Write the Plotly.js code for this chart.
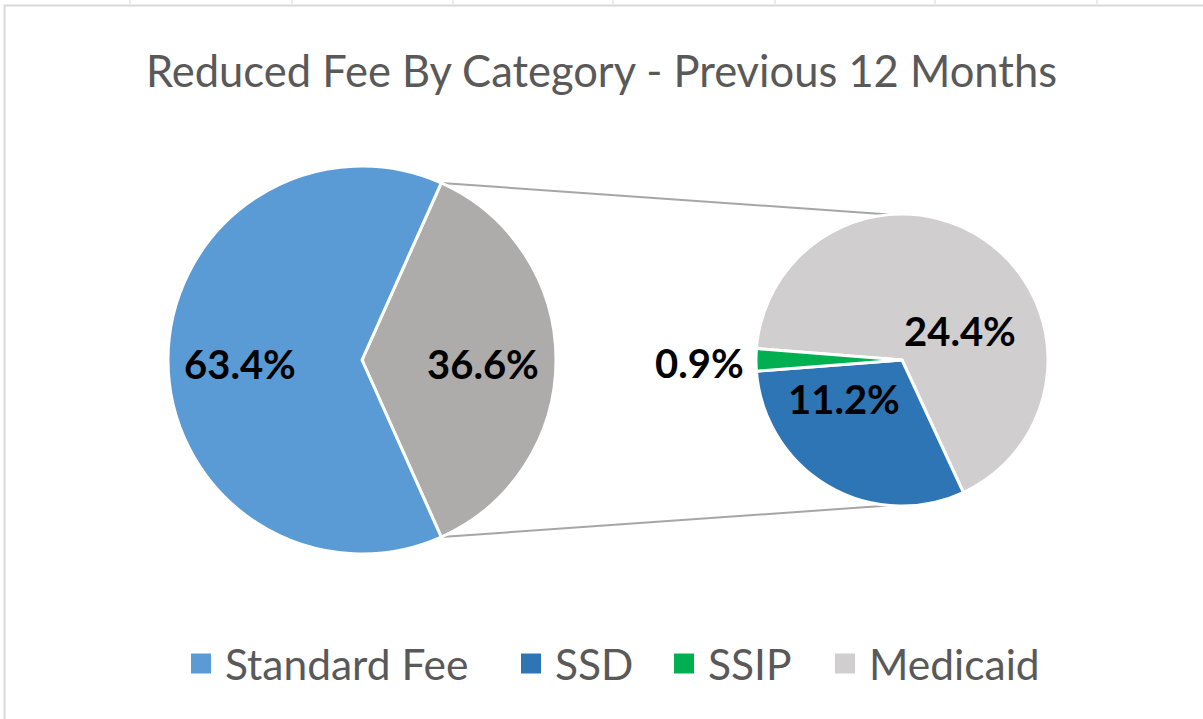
<!DOCTYPE html>
<html><head><meta charset="utf-8">
<script src="https://cdn.plot.ly/plotly-3.0.1.min.js"></script>
<style>html,body{margin:0;padding:0;background:#fff;overflow:hidden;} #chart{width:1203px;height:719px;}</style>
</head><body><div id="chart"></div>
<script>
// ---- data ----
const mainLabels = ['Other', 'Standard Fee'];
const mainValues = [36.6, 63.4];
const subLabels = ['Medicaid', 'SSD', 'SSIP'];
const subValues = [24.4, 11.2, 0.9];
const legendLabels = ['Standard Fee', 'SSD', 'SSIP', 'Medicaid'];
const titleText = 'Reduced Fee By Category - Previous 12 Months';

// ---- styles ----
const colorMap = {'Standard Fee':'#5B9BD5','Other':'#AEABAB','Medicaid':'#D0CECE','SSD':'#2E75B6','SSIP':'#00B050'};
const W = 1203, H = 719;
const FONT = 'Lato, "Open Sans", sans-serif';
const mainC = {x:362, y:360, r:194};
const subC = {x:902, y:360, r:146};
// label placement offsets (in radius units) relative to each pie centre
const mainLabelOff = [[0.626, 0.02], [-0.629, 0.02]];
const subLabelOff = [[0.40, -0.20], [-0.40, 0.265], [-1.385, 0.02]];
// legend layout (px)
const legendSwatchLeft = [191, 521, 674, 835];
const legendY = 663.5, swatch = 20, swatchGap = 12;

const dom = c => ({x:[(c.x-c.r)/W,(c.x+c.r)/W], y:[1-(c.y+c.r)/H, 1-(c.y-c.r)/H]});
const mainTotal = mainValues.reduce((a,b)=>a+b,0);
const otherDeg = mainValues[0]/mainTotal*360;
const mainRot = 90 - otherDeg/2;
const subRot = -85.5;
const fmt = v => v.toFixed(1) + '%';

const traces = [
  {type:'pie', labels:mainLabels, values:mainValues, sort:false, direction:'clockwise',
   rotation:mainRot, domain:dom(mainC), textinfo:'none',
   marker:{colors:mainLabels.map(l=>colorMap[l]), line:{color:'#fff', width:3}},
   showlegend:false},
  {type:'pie', labels:subLabels, values:subValues, sort:false, direction:'clockwise',
   rotation:subRot, domain:dom(subC), textinfo:'none',
   marker:{colors:subLabels.map(l=>colorMap[l]), line:{color:'#fff', width:3}},
   showlegend:false}
];

// connector lines derived from pie geometry
const rad = d => d*Math.PI/180;
const pt = (c, clockDeg) => [c.x + c.r*Math.sin(rad(clockDeg)), c.y - c.r*Math.cos(rad(clockDeg))];
const a0 = pt(mainC, mainRot), a1 = pt(mainC, mainRot + otherDeg);
const b0 = pt(subC, -5), b1 = pt(subC, 185);
const line = (p,q) => ({type:'line', xref:'paper', yref:'paper', x0:p[0]/W, y0:1-p[1]/H, x1:q[0]/W, y1:1-q[1]/H, line:{color:'#A6A6A6', width:2}, layer:'below'});

const shapes = [line(a0,b0), line(a1,b1)];
shapes.push({type:'rect', xref:'paper', yref:'paper', x0:4.5/W, x1:1.01, y0:-0.01, y1:1-5.5/H, line:{color:'#D9D9D9', width:2}, fillcolor:'rgba(0,0,0,0)'});
[130,292,453,613,775,935,1097].forEach(x=>shapes.push({type:'line', xref:'paper', yref:'paper', x0:x/W, x1:x/W, y0:1-4/H, y1:1, line:{color:'#D9D9D9', width:1}}));

// value labels
const annotations = [];
const addLabels = (c, vals, offs) => vals.forEach((v,i)=>annotations.push({
  xref:'paper', yref:'paper', x:(c.x + offs[i][0]*c.r)/W, y:1-(c.y + offs[i][1]*c.r)/H,
  xanchor:'center', yanchor:'middle', showarrow:false, text:'<b>'+fmt(v)+'</b>',
  font:{family:FONT, size:40, color:'#000'}}));
addLabels(mainC, mainValues, mainLabelOff);
addLabels(subC, subValues, subLabelOff);

// legend (swatches + text)
legendLabels.forEach((l,i)=>{
  const x0 = legendSwatchLeft[i];
  shapes.push({type:'rect', xref:'paper', yref:'paper', x0:x0/W, x1:(x0+swatch)/W,
    y0:1-(legendY+swatch/2)/H, y1:1-(legendY-swatch/2)/H, line:{width:0}, fillcolor:colorMap[l]});
  annotations.push({xref:'paper', yref:'paper', x:(x0+swatch+swatchGap)/W, y:1-legendY/H,
    xanchor:'left', yanchor:'middle', showarrow:false, text:l,
    font:{family:FONT, size:42.5, color:'#595959'}});
});

const layout = {
  width:W, height:H, margin:{l:0,r:0,t:0,b:0}, paper_bgcolor:'#fff', plot_bgcolor:'rgba(0,0,0,0)',
  showlegend:false,
  title:{text:titleText, x:0.5, xanchor:'center', y:1-72/H, yanchor:'middle', font:{family:FONT, size:43.5, color:'#595959'}},
  shapes:shapes, annotations:annotations
};

Plotly.newPlot('chart', traces, layout, {displayModeBar:false, staticPlot:true});
</script></body></html>
